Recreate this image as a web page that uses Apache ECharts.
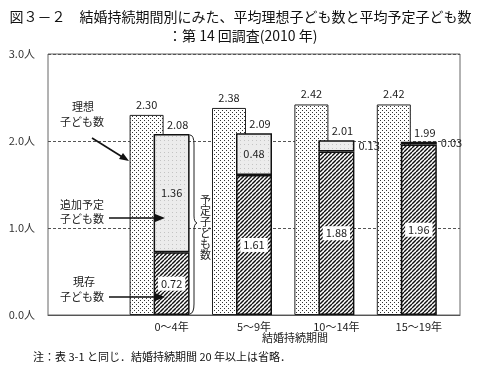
<!DOCTYPE html>
<html><head><meta charset="utf-8">
<script src="https://cdn.jsdelivr.net/npm/echarts@6/dist/echarts.min.js"></script>
<style>html,body{margin:0;padding:0;background:#fff}#c{width:481px;height:366px}</style>
</head><body><div id="c"></div>
<script>
const categories = ['0～4年', '5～9年', '10～14年', '15～19年'];
const idealValues = [2.30, 2.38, 2.42, 2.42];
const currentValues = [0.72, 1.61, 1.88, 1.96];
const additionalValues = [1.36, 0.48, 0.13, 0.03];
const plannedTotals = [2.08, 2.09, 2.01, 1.99];
const yTickLabels = ['0.0人', '1.0人', '2.0人', '3.0人'];

const FONT = '"Noto Sans CJK JP", sans-serif';

function pattern(size, draw) {
  const c = document.createElement('canvas');
  c.width = size; c.height = size;
  const g = c.getContext('2d');
  draw(g, size);
  return { image: c, repeat: 'repeat' };
}
const dotPattern = pattern(4, (g, s) => {
  g.fillStyle = '#fff'; g.fillRect(0, 0, s, s);
  g.fillStyle = '#333'; g.fillRect(0, 0, 1, 1); g.fillRect(2, 2, 1, 1);
});
const grayPattern = pattern(4, (g, s) => {
  g.fillStyle = '#ececec'; g.fillRect(0, 0, s, s);
  g.fillStyle = '#c4c4c4'; g.fillRect(0, 0, 1, 1);
});
const hatchPattern = pattern(4, (g, s) => {
  g.fillStyle = '#fff'; g.fillRect(0, 0, s, s);
  g.strokeStyle = '#111'; g.lineWidth = 1.4;
  for (let k = -1; k <= 1; k++) {
    g.beginPath(); g.moveTo(k * s, s); g.lineTo(k * s + s, 0); g.stroke();
  }
});

const cats = [''].concat(categories);
const pad = arr => ['-'].concat(arr);

const labelFont = { fontFamily: FONT, fontSize: 11, color: '#222' };

const addData = pad(additionalValues.map(v => (
  v < 0.2
    ? { value: v, label: { position: 'right', distance: 2, backgroundColor: 'rgba(0,0,0,0)' } }
    : { value: v }
)));

const txt = (x, y, s) => ({ type: 'text', x: x, y: y, z: 20, style: { text: s, font: '11px ' + FONT, fill: '#222' } });
const line = (x1, y1, x2, y2) => ({ type: 'line', z: 20, shape: { x1, y1, x2, y2 }, style: { stroke: '#111', lineWidth: 1.6 } });
const head = pts => ({ type: 'polygon', z: 20, shape: { points: pts }, style: { fill: '#111' } });
const curve = (x1, y1, cx, cy, x2, y2) => ({ type: 'bezierCurve', z: 20, shape: { x1, y1, x2, y2, cpx1: cx, cpy1: cy }, style: { stroke: '#222', lineWidth: 1, fill: null } });

const chart = echarts.init(document.getElementById('c'), null, { renderer: 'canvas' });
chart.setOption({
  animation: false,
  backgroundColor: '#fff',
  textStyle: { fontFamily: FONT },
  title: [
    { text: '図３－２　結婚持続期間別にみた、平均理想子ども数と平均予定子ども数', left: 'center', top: 5,
      textStyle: { fontFamily: FONT, fontSize: 14, fontWeight: 'normal', color: '#111' } },
    { text: '：第 14 回調査(2010 年)', left: 163, top: 24,
      textStyle: { fontFamily: FONT, fontSize: 14, fontWeight: 'normal', color: '#111' } }
  ],
  grid: [
    { left: 48, right: 21, top: 54, bottom: 51, show: true, borderColor: '#666', borderWidth: 1, backgroundColor: 'rgba(0,0,0,0)' },
    { left: 23, right: 46, top: 54, bottom: 51 }
  ],
  xAxis: [
    { type: 'category', data: cats, gridIndex: 0,
      axisTick: { show: false }, axisLine: { lineStyle: { color: '#555' } },
      axisLabel: { fontFamily: FONT, fontSize: 11, color: '#222', margin: 6 } },
    { type: 'category', data: cats, gridIndex: 1, show: false }
  ],
  yAxis: [
    { type: 'value', min: 0, max: 3, interval: 1, gridIndex: 0,
      axisLine: { show: false }, axisTick: { show: false },
      axisLabel: { fontFamily: FONT, fontSize: 11, color: '#333', margin: 13,
        formatter: v => yTickLabels[Math.round(v)] },
      splitLine: { lineStyle: { color: '#555', type: [3, 2], width: 1 } } },
    { type: 'value', min: 0, max: 3, gridIndex: 1, show: false, splitLine: { show: false } }
  ],
  series: [
    { name: '理想子ども数', type: 'bar', xAxisIndex: 1, yAxisIndex: 1, data: pad(idealValues),
      barWidth: 34, z: 2,
      itemStyle: { color: dotPattern, borderColor: '#222', borderWidth: 1 },
      label: { show: true, position: 'top', distance: 5, ...labelFont, formatter: p => (+p.value).toFixed(2) } },
    { name: '現存子ども数', type: 'bar', stack: 'p', xAxisIndex: 0, yAxisIndex: 0, data: pad(currentValues),
      barWidth: 36, z: 3,
      itemStyle: { color: hatchPattern, borderColor: '#111', borderWidth: 1.5 },
      label: { show: true, position: 'inside', ...labelFont, backgroundColor: '#fff', padding: [2, 3, 1, 3],
        formatter: p => (+p.value).toFixed(2) } },
    { name: '追加予定子ども数', type: 'bar', stack: 'p', xAxisIndex: 0, yAxisIndex: 0, data: addData,
      barWidth: 36, z: 3,
      itemStyle: { color: grayPattern, borderColor: '#111', borderWidth: 1.5 },
      label: { show: true, position: 'inside', ...labelFont, backgroundColor: '#ececec', padding: [1, 2],
        formatter: p => (+p.value).toFixed(2) } },
    { name: '予定子ども数', type: 'scatter', xAxisIndex: 0, yAxisIndex: 0, data: pad(plannedTotals),
      symbol: 'rect', symbolSize: 1, itemStyle: { color: 'rgba(0,0,0,0)', opacity: 1 }, z: 6, silent: true,
      label: { show: true, position: 'top', distance: 3, offset: [6, 0], ...labelFont, opacity: 1,
        formatter: p => (+p.value).toFixed(2) } }
  ],
  graphic: [
    txt(72, 101, '理想'), txt(60, 116, '子ども数'),
    line(92, 138, 124, 158), head([[129, 161], [119, 159], [123, 153]]),

    txt(60, 199, '追加予定'), txt(60, 213, '子ども数'),
    line(109, 218, 158, 218), head([[165, 218], [155, 214], [155, 222]]),

    txt(73, 276, '現存'), txt(60, 291, '子ども数'),
    line(109, 297, 158, 297), head([[165, 297], [155, 293], [155, 301]]),

    curve(190, 135, 194, 135, 194, 145),
    { type: 'line', z: 20, shape: { x1: 194, y1: 145, x2: 194, y2: 216 }, style: { stroke: '#222', lineWidth: 1 } },
    curve(194, 216, 194, 222, 197, 223),
    curve(197, 223, 194, 224, 194, 230),
    { type: 'line', z: 20, shape: { x1: 194, y1: 230, x2: 194, y2: 304 }, style: { stroke: '#222', lineWidth: 1 } },
    curve(194, 304, 194, 313, 190, 314),
    { type: 'text', x: 200, y: 194, z: 20, style: { text: '予\n定\n子\nど\nも\n数', font: '11px ' + FONT, fill: '#222', lineHeight: 11 } },

    txt(262, 332, '結婚持続期間'),
    { type: 'text', x: 33, y: 351, z: 20, style: { text: '注：表 3-1 と同じ．結婚持続期間 20 年以上は省略．', font: '11px ' + FONT, fill: '#111' } }
  ]
});
</script></body></html>
